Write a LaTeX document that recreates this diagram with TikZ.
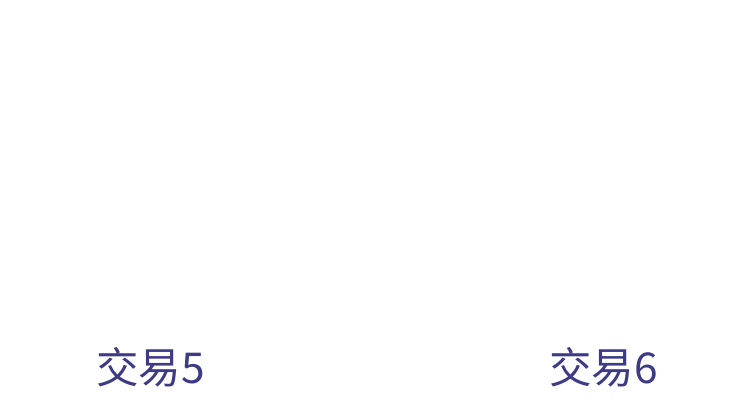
\documentclass[tikz,border=0pt]{standalone}
\usepackage{fontspec}
\newfontfamily\cjk{Noto Sans CJK SC}
\definecolor{txtblue}{HTML}{3D3A86}
\tikzset{lbl/.style={font=\cjk\fontsize{42.5pt}{48pt}\selectfont, text=txtblue, inner sep=0pt, anchor=base}}
\begin{document}
\begin{tikzpicture}[x=1pt,y=1pt]
\useasboundingbox[fill=white] (0,0) rectangle (753,408);
\node[lbl] (t5) at (150.5,25) {交易5};
\node[lbl] (t6) at (603.5,25) {交易6};
\end{tikzpicture}
\end{document}
